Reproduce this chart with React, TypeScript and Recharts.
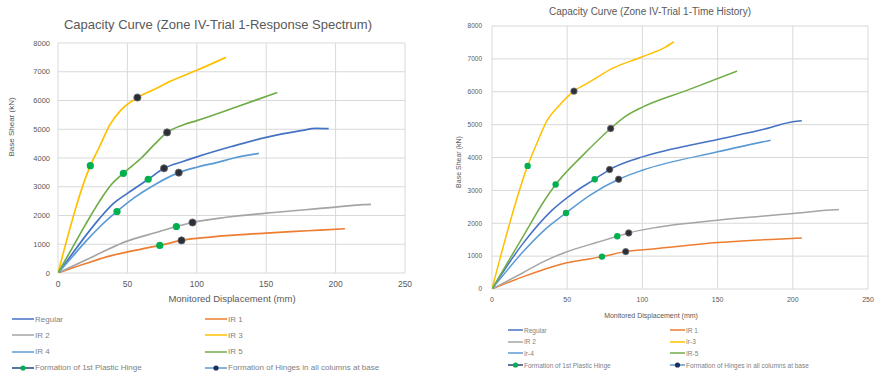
import React from 'react';
import { ComposedChart, Line, Scatter, XAxis, YAxis, CartesianGrid, Legend, Label } from 'recharts';

type P = { x: number; y: number };

// ---------- Response Spectrum (left) ----------
const rsRegular: P[] = [
  { x: 0, y: 0 }, { x: 10, y: 650 }, { x: 20, y: 1300 }, { x: 30, y: 1900 }, { x: 40, y: 2420 },
  { x: 50, y: 2770 }, { x: 65, y: 3260 }, { x: 76.4, y: 3640 }, { x: 90, y: 3880 }, { x: 100, y: 4040 },
  { x: 125, y: 4400 }, { x: 150, y: 4720 }, { x: 175, y: 4950 }, { x: 186, y: 5030 }, { x: 195, y: 5020 },
];
const rsIR1: P[] = [
  { x: 0, y: 0 }, { x: 20, y: 330 }, { x: 35, y: 560 }, { x: 47, y: 700 }, { x: 60, y: 830 },
  { x: 73.3, y: 960 }, { x: 89, y: 1133 }, { x: 110, y: 1250 }, { x: 150, y: 1390 }, { x: 180, y: 1470 },
  { x: 206.7, y: 1540 },
];
const rsIR2: P[] = [
  { x: 0, y: 0 }, { x: 20, y: 450 }, { x: 35, y: 800 }, { x: 49.3, y: 1100 }, { x: 70, y: 1400 },
  { x: 85.3, y: 1618 }, { x: 96.9, y: 1757 }, { x: 120, y: 1930 }, { x: 150, y: 2080 }, { x: 200, y: 2290 },
  { x: 220, y: 2380 }, { x: 225.5, y: 2390 },
];
const rsIR3: P[] = [
  { x: 0, y: 0 }, { x: 23.3, y: 3734 }, { x: 30, y: 4400 }, { x: 37.3, y: 5150 }, { x: 45, y: 5650 },
  { x: 57.2, y: 6100 }, { x: 70, y: 6400 }, { x: 80, y: 6650 }, { x: 100, y: 7050 }, { x: 121, y: 7500 },
];
const rsIR4: P[] = [
  { x: 0, y: 0 }, { x: 10, y: 550 }, { x: 20, y: 1100 }, { x: 30, y: 1600 }, { x: 42.5, y: 2140 },
  { x: 55, y: 2620 }, { x: 70, y: 3080 }, { x: 87, y: 3490 }, { x: 100, y: 3680 }, { x: 115, y: 3850 },
  { x: 126, y: 3990 }, { x: 135, y: 4080 }, { x: 144.7, y: 4160 },
];
const rsIR5: P[] = [
  { x: 0, y: 0 }, { x: 10, y: 850 }, { x: 20, y: 1700 }, { x: 30, y: 2500 }, { x: 38, y: 3050 },
  { x: 47.1, y: 3470 }, { x: 60, y: 4000 }, { x: 70, y: 4500 }, { x: 78.6, y: 4890 }, { x: 90, y: 5150 },
  { x: 100, y: 5300 }, { x: 130, y: 5800 }, { x: 158, y: 6280 },
];
const rsFirstHinge: P[] = [
  { x: 23.3, y: 3734 }, { x: 47.1, y: 3468 }, { x: 65, y: 3260 }, { x: 42.5, y: 2139 }, { x: 85.3, y: 1618 }, { x: 73.3, y: 960 },
];
const rsAllHinges: P[] = [
  { x: 57.2, y: 6104 }, { x: 78.6, y: 4890 }, { x: 76.4, y: 3641 }, { x: 87, y: 3491 }, { x: 96.9, y: 1757 }, { x: 89, y: 1133 },
];

// ---------- Time History (right) ----------
const thRegular: P[] = [
  { x: 0, y: 0 }, { x: 20, y: 1350 }, { x: 40, y: 2400 }, { x: 55, y: 2950 }, { x: 68.3, y: 3339 },
  { x: 78.2, y: 3634 }, { x: 90, y: 3870 }, { x: 100, y: 4019 }, { x: 150, y: 4547 }, { x: 180, y: 4850 },
  { x: 200, y: 5085 }, { x: 206, y: 5116 },
];
const thIR1: P[] = [
  { x: 0, y: 0 }, { x: 20, y: 360 }, { x: 35, y: 600 }, { x: 47.2, y: 771 }, { x: 60, y: 880 },
  { x: 73.1, y: 985 }, { x: 88.9, y: 1137 }, { x: 110, y: 1230 }, { x: 150, y: 1411 }, { x: 206, y: 1553 },
];
const thIR2: P[] = [
  { x: 0, y: 0 }, { x: 20, y: 480 }, { x: 35, y: 850 }, { x: 49.4, y: 1127 }, { x: 70, y: 1420 },
  { x: 83.3, y: 1604 }, { x: 90.9, y: 1705 }, { x: 110, y: 1880 }, { x: 150, y: 2091 }, { x: 200, y: 2294 },
  { x: 225, y: 2400 }, { x: 230.7, y: 2416 },
];
const thIR3: P[] = [
  { x: 0, y: 0 }, { x: 23.7, y: 3745 }, { x: 30, y: 4450 }, { x: 36.1, y: 5085 }, { x: 45, y: 5600 },
  { x: 54.5, y: 6019 }, { x: 65, y: 6300 }, { x: 80, y: 6709 }, { x: 100, y: 7065 }, { x: 115, y: 7350 },
  { x: 121, y: 7521 },
];
const thIR4: P[] = [
  { x: 0, y: 0 }, { x: 20, y: 1100 }, { x: 35, y: 1800 }, { x: 49.2, y: 2314 }, { x: 65, y: 2850 },
  { x: 84.2, y: 3339 }, { x: 100, y: 3613 }, { x: 150, y: 4172 }, { x: 185.3, y: 4527 },
];
const thIR5: P[] = [
  { x: 0, y: 0 }, { x: 20, y: 1550 }, { x: 35, y: 2700 }, { x: 42.3, y: 3177 }, { x: 60, y: 4050 },
  { x: 78.9, y: 4882 }, { x: 88.2, y: 5237 }, { x: 100.4, y: 5542 }, { x: 130, y: 6050 }, { x: 163, y: 6628 },
];
const thFirstHinge: P[] = [
  { x: 23.7, y: 3745 }, { x: 42.3, y: 3177 }, { x: 68.3, y: 3339 }, { x: 49.2, y: 2314 }, { x: 83.3, y: 1604 }, { x: 73.1, y: 985 },
];
const thAllHinges: P[] = [
  { x: 54.5, y: 6019 }, { x: 78.9, y: 4882 }, { x: 78.2, y: 3634 }, { x: 84.2, y: 3339 }, { x: 90.9, y: 1705 }, { x: 88.9, y: 1137 },
];

const xTicks = [0, 50, 100, 150, 200, 250];
const yTicks = [0, 1000, 2000, 3000, 4000, 5000, 6000, 7000, 8000];

const rsTitle = 'Capacity Curve (Zone IV-Trial 1-Response Spectrum)';
const thTitle = 'Capacity Curve (Zone IV-Trial 1-Time History)';
const xTitle = 'Monitored Displacement (mm)';
const yTitle = 'Base Shear (kN)';

const rsNames = ['Regular', 'IR 1', 'IR 2', 'IR 3', 'IR 4', 'IR 5'];
const thNames = ['Regular', 'IR 1', 'IR 2', 'Ir-3', 'Ir-4', 'IR-5'];
const hingeNames = ['Formation of 1st Plastic Hinge', 'Formation of Hinges in all columns at base'];

const COLORS = ['#4472C4', '#ED7D31', '#A5A5A5', '#FFC000', '#5B9BD5', '#70AD47'];
const GREEN = '#00B050';
const DARK = '#2b2f38';
const FONT = '"Liberation Sans", Arial, sans-serif';
const TEXT = '#595959';

type Cfg = {
  title: string;
  names: string[];
  series: P[][];
  first: P[];
  all: P[];
  margin: { top: number; right: number; bottom: number; left: number };
  yAxisWidth: number;
  titleX: number; titleY: number; titleSize: number;
  xTickSize: number; yTickSize: number; yTickMargin: number;
  xTitleX: number; xTitleY: number; xTitleSize: number;
  yTitleX: number; yTitleY: number; yTitleSize: number;
  strokeW: number; r: number;
  legendTop: number; legendRow: number; legendSize: number;
  legendCols: number[]; legendLineW: number;
};

const LegendLine = ({ color, w, dot }: { color: string; w: number; dot?: string }) => (
  <svg width={w} height={8} style={{ display: 'block', flex: 'none' }}>
    <line x1={0} y1={4} x2={w} y2={4} stroke={color} strokeWidth={1.5} />
    {dot && <circle cx={w / 2} cy={4} r={2.6} fill={dot} />}
  </svg>
);

const CapacityChart = ({ cfg }: { cfg: Cfg }) => {
  const legendItems = [
    ...cfg.names.map((n, i) => ({ name: n, color: COLORS[i], dot: undefined as string | undefined })),
    { name: hingeNames[0], color: '#264478', dot: GREEN },
    { name: hingeNames[1], color: '#5B9BD5', dot: '#1F2F5C' },
  ];
  const renderLegend = () => (
    <div style={{ position: 'relative', width: 440, height: 70, fontFamily: FONT, fontSize: cfg.legendSize, color: '#7f7f7f' }}>
      {legendItems.map((it, i) => (
        <div
          key={it.name}
          style={{
            position: 'absolute',
            left: cfg.legendCols[i % 2],
            top: Math.floor(i / 2) * cfg.legendRow,
            display: 'flex',
            alignItems: 'center',
            whiteSpace: 'nowrap',
            height: 10,
          }}
        >
          <LegendLine color={it.color} w={cfg.legendLineW} dot={it.dot} />
          <span style={{ marginLeft: 1 }}>{it.name}</span>
        </div>
      ))}
    </div>
  );

  return (
    <div style={{ position: 'relative', width: 440, height: 379 }}>
      <div
        style={{
          position: 'absolute', left: cfg.titleX - 200, width: 400, top: cfg.titleY - cfg.titleSize * 0.6,
          textAlign: 'center', fontFamily: FONT, fontSize: cfg.titleSize, color: TEXT, whiteSpace: 'nowrap', lineHeight: 1.2,
        }}
      >
        {cfg.title}
      </div>
      <ComposedChart width={440} height={379} margin={cfg.margin}>
        <CartesianGrid stroke="#D9D9D9" strokeWidth={1} />
        <XAxis
          type="number"
          dataKey="x"
          domain={[0, 250]}
          ticks={xTicks}
          axisLine={false}
          tickLine={false}
          height={20}
          tick={{ fontSize: cfg.xTickSize, fill: TEXT, fontFamily: FONT }}
          allowDataOverflow
        >
          <Label
            content={() => (
              <text x={cfg.xTitleX} y={cfg.xTitleY} textAnchor="middle" dominantBaseline="central" fontFamily={FONT} fontSize={cfg.xTitleSize} fill={TEXT}>
                {xTitle}
              </text>
            )}
          />
        </XAxis>
        <YAxis
          type="number"
          dataKey="y"
          domain={[0, 8000]}
          ticks={yTicks}
          axisLine={false}
          tickLine={false}
          width={cfg.yAxisWidth}
          tickMargin={cfg.yTickMargin}
          tick={{ fontSize: cfg.yTickSize, fill: TEXT, fontFamily: FONT }}
          allowDataOverflow
        >
          <Label
            content={() => (
              <text
                x={cfg.yTitleX}
                y={cfg.yTitleY}
                transform={`rotate(-90 ${cfg.yTitleX} ${cfg.yTitleY})`}
                textAnchor="middle"
                dominantBaseline="central"
                fontFamily={FONT}
                fontSize={cfg.yTitleSize}
                fill={TEXT}
              >
                {yTitle}
              </text>
            )}
          />
        </YAxis>
        {cfg.series.map((d, i) => (
          <Line
            key={cfg.names[i]}
            data={d}
            dataKey="y"
            name={cfg.names[i]}
            type="monotone"
            stroke={COLORS[i]}
            strokeWidth={cfg.strokeW}
            dot={false}
            isAnimationActive={false}
          />
        ))}
        <Scatter
          data={cfg.first}
          dataKey="y"
          name={hingeNames[0]}
          isAnimationActive={false}
          shape={(p: any) => <circle cx={p.cx} cy={p.cy} r={cfg.r} fill={GREEN} />}
        />
        <Scatter
          data={cfg.all}
          dataKey="y"
          name={hingeNames[1]}
          isAnimationActive={false}
          shape={(p: any) => <circle cx={p.cx} cy={p.cy} r={cfg.r} fill={DARK} stroke="#6b6b6b" strokeWidth={0.8} />}
        />
        <Legend
          layout="horizontal"
          verticalAlign="middle"
          align="center"
          content={renderLegend}
          wrapperStyle={{ left: 0, top: cfg.legendTop, width: 440, height: 70 }}
        />
      </ComposedChart>
    </div>
  );
};

const rsCfg: Cfg = {
  title: rsTitle,
  names: rsNames,
  series: [rsRegular, rsIR1, rsIR2, rsIR3, rsIR4, rsIR5],
  first: rsFirstHinge,
  all: rsAllHinges,
  margin: { top: 43, right: 35, bottom: 86, left: 0 },
  yAxisWidth: 58,
  titleX: 218, titleY: 25, titleSize: 13,
  xTickSize: 8.5, yTickSize: 7.5, yTickMargin: 2,
  xTitleX: 232, xTitleY: 298, xTitleSize: 9.5,
  yTitleX: 11, yTitleY: 127, yTitleSize: 8,
  strokeW: 1.7, r: 3.6,
  legendTop: 314, legendRow: 16.3, legendSize: 8,
  legendCols: [12, 205], legendLineW: 22,
};

const thCfg: Cfg = {
  title: thTitle,
  names: thNames,
  series: [thRegular, thIR1, thIR2, thIR3, thIR4, thIR5],
  first: thFirstHinge,
  all: thAllHinges,
  margin: { top: 26, right: 12, bottom: 70, left: 0 },
  yAxisWidth: 52,
  titleX: 210, titleY: 12, titleSize: 10,
  xTickSize: 7, yTickSize: 6.5, yTickMargin: 4,
  xTitleX: 211, xTitleY: 315, xTitleSize: 7,
  yTitleX: 18, yTitleY: 162, yTitleSize: 7,
  strokeW: 1.5, r: 3.2,
  legendTop: 325, legendRow: 11.7, legendSize: 6.5,
  legendCols: [68, 230], legendLineW: 15,
};

export default function App() {
  return (
    <div style={{ position: 'absolute', left: 0, top: 0, width: 880, height: 379, background: '#fff', display: 'flex' }}>
      <CapacityChart cfg={rsCfg} />
      <CapacityChart cfg={thCfg} />
    </div>
  );
}
